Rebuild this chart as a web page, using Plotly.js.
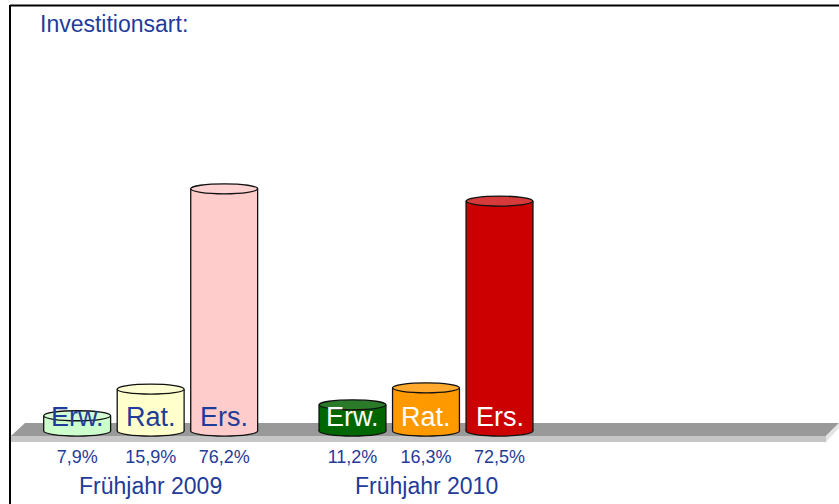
<!DOCTYPE html>
<html>
<head>
<meta charset="utf-8">
<script src="https://cdn.plot.ly/plotly-3.0.1.min.js"></script>
<style>html,body{margin:0;padding:0;background:#fff}</style>
</head>
<body>
<div id="chart" style="width:839px;height:504px"></div>
<script>
var groups = ['Frühjahr 2009', 'Frühjahr 2010'];
var series = ['Erw.', 'Rat.', 'Ers.'];
var erw = [7.9, 11.2];
var rat = [15.9, 16.3];
var ers = [76.2, 72.5];

var values = [erw, rat, ers];
// colours per series: [2009, 2010]
var bodyColors = [['#ccffcc', '#006600'], ['#ffffcc', '#ff9900'], ['#ffcccc', '#cc0000']];
var topColors = [['#d4ffd4', '#2a7a2a'], ['#ffffd4', '#ffaa2e'], ['#ffd2d2', '#d63a3a']];
var labelColors = ['#1f3c99', '#ffffff'];

var blue = '#1f3c99';
var font = 'Liberation Sans, Arial, sans-serif';
var slot = 0.267;      // distance between bars of a group
var barW = 0.243;
var floorLevel = 3.3;  // cylinders stand on the floor, a bit above zero
var labelY = 7.4;

// plot area in pixels, used for the decoration
var ML = 13, MT = 10, PW = 826, PH = 432;
function px(x) { return (x - ML) / PW; }
function py(y) { return 1 - (y - MT) / PH; }
function pt(x, y) { return px(x) + ',' + py(y); }

function pct(v) { return v.toFixed(1).replace('.', ',') + '%'; }

var traces = [], shapes = [], annotations = [], tickvals = [], ticktext = [];

// floor
shapes.push({type: 'path', xref: 'paper', yref: 'paper', layer: 'below',
  path: 'M' + pt(25, 423) + ' L' + pt(839, 423) + ' L' + pt(826, 436) + ' L' + pt(11, 436) + ' Z',
  fillcolor: '#999999', line: {width: 0}});
shapes.push({type: 'path', xref: 'paper', yref: 'paper', layer: 'below',
  path: 'M' + pt(11, 436) + ' L' + pt(826, 436) + ' L' + pt(826, 442) + ' L' + pt(11, 442) + ' Z',
  fillcolor: '#c6c6c6', line: {width: 0}});
shapes.push({type: 'path', xref: 'paper', yref: 'paper', layer: 'below',
  path: 'M' + pt(826, 436) + ' L' + pt(839, 423) + ' L' + pt(839, 428) + ' L' + pt(826, 442) + ' Z',
  fillcolor: '#e4e4e4', line: {width: 0}});

// border
shapes.push({type: 'line', xref: 'paper', yref: 'paper', x0: px(10), x1: px(10), y0: py(5), y1: py(504),
  line: {color: '#000', width: 2}});
shapes.push({type: 'line', xref: 'paper', yref: 'paper', x0: px(10), x1: px(839), y0: py(5.5), y1: py(5.5),
  line: {color: '#000', width: 2}});

series.forEach(function (name, s) {
  var xs = groups.map(function (g, gi) { return gi + (s - 1) * slot; });
  traces.push({
    type: 'bar', name: name, x: xs,
    y: values[s].map(function (v) { return v - floorLevel; }),
    base: floorLevel, width: barW,
    marker: {color: bodyColors[s], line: {width: 0}},
    hoverinfo: 'skip'
  });
  xs.forEach(function (x, gi) {
    var v = values[s][gi];
    var l = x - barW / 2, r = x + barW / 2;
    // bottom rim
    shapes.push({type: 'circle', xref: 'x', yref: 'y', layer: 'below', x0: l, x1: r,
      ysizemode: 'pixel', yanchor: floorLevel, y0: -5, y1: 5,
      fillcolor: bodyColors[s][gi], line: {color: '#111', width: 1.3}});
    // sides
    [l, r].forEach(function (e) {
      shapes.push({type: 'line', xref: 'x', yref: 'y', x0: e, x1: e, y0: floorLevel, y1: v,
        line: {color: '#111', width: 1.3}});
    });
    // top
    shapes.push({type: 'circle', xref: 'x', yref: 'y', x0: l, x1: r,
      ysizemode: 'pixel', yanchor: v, y0: -5, y1: 5,
      fillcolor: topColors[s][gi], line: {color: '#111', width: 1.3}});
    annotations.push({x: x, y: labelY, xref: 'x', yref: 'y', text: name, showarrow: false,
      yanchor: 'middle', font: {family: font, size: 27, color: labelColors[gi]}});
    tickvals.push(x);
    ticktext.push(pct(v));
  });
});

groups.forEach(function (g, gi) {
  annotations.push({x: gi, y: py(486), xref: 'x', yref: 'paper', text: g, showarrow: false,
    yanchor: 'middle', font: {family: font, size: 23, color: blue}});
});

var layout = {
  width: 839, height: 504,
  margin: {l: ML, r: 0, t: MT, b: 504 - MT - PH},
  paper_bgcolor: '#fff', plot_bgcolor: '#fff',
  showlegend: false,
  title: {text: 'Investitionsart:', font: {family: font, size: 23, color: blue},
    x: 40 / 839, xref: 'container', xanchor: 'left', y: 1 - 24 / 504, yref: 'container', yanchor: 'middle'},
  xaxis: {range: [-0.5, 2.5], tickvals: tickvals, ticktext: ticktext, ticks: '',
    ticklabelstandoff: 2,
    showgrid: false, zeroline: false, showline: false,
    tickfont: {family: font, size: 18, color: blue}},
  yaxis: {range: [0, 130], showgrid: false, zeroline: false, showticklabels: false, showline: false},
  shapes: shapes,
  annotations: annotations
};

Plotly.newPlot('chart', traces, layout, {displayModeBar: false});
</script>
</body>
</html>
